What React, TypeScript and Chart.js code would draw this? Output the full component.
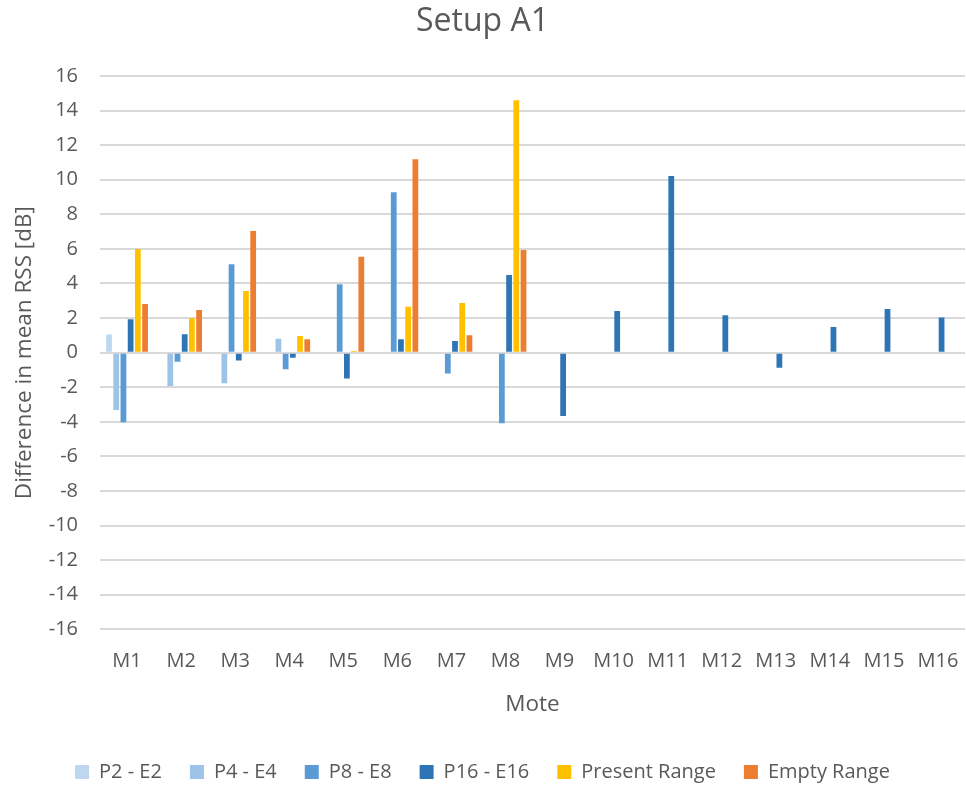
import React, { useEffect, useRef } from "react";
import { Chart, registerables } from "chart.js";

Chart.register(...registerables);

const categories = ["M1", "M2", "M3", "M4", "M5", "M6", "M7", "M8", "M9", "M10", "M11", "M12", "M13", "M14", "M15", "M16"];

const p2e2 = [1.05, null, null, null, null, null, null, null, null, null, null, null, null, null, null, null];
const p4e4 = [-3.32, -1.93, -1.77, 0.81, null, null, null, null, null, null, null, null, null, null, null, null];
const p8e8 = [-4.03, -0.52, 5.11, -0.96, 3.95, 9.27, -1.2, -4.09, null, null, null, null, null, null, null, null];
const p16e16 = [1.93, 1.06, -0.46, -0.29, -1.49, 0.77, 0.68, 4.49, -3.66, 2.41, 10.22, 2.16, -0.87, 1.48, 2.53, 2.04];
const presentRange = [6.0, 1.99, 3.57, 0.96, 0.1, 2.66, 2.87, 14.6, null, null, null, null, null, null, null, null];
const emptyRange = [2.82, 2.47, 7.04, 0.77, 5.55, 11.18, 1.0, 5.94, null, null, null, null, null, null, null, null];

const seriesNames = ["P2 - E2", "P4 - E4", "P8 - E8", "P16 - E16", "Present Range", "Empty Range"];
const seriesColors = ["#BDD7EE", "#9DC3E6", "#5B9BD5", "#2E75B6", "#FFC000", "#ED7D31"];

const FONT = "'Open Sans', 'DejaVu Sans', sans-serif";
const TEXT = "#595959";

export default function App() {
  const canvasRef = useRef<HTMLCanvasElement | null>(null);

  useEffect(() => {
    document.body.style.margin = "0";
    const canvas = canvasRef.current;
    if (!canvas) return;
    const seriesData = [p2e2, p4e4, p8e8, p16e16, presentRange, emptyRange];
    const chart = new Chart(canvas, {
      type: "bar",
      data: {
        labels: categories,
        datasets: seriesData.map((d, i) => ({
          label: seriesNames[i],
          data: d,
          backgroundColor: seriesColors[i],
          borderWidth: 0,
          categoryPercentage: 0.8,
          barPercentage: 0.8,
        })),
      },
      options: {
        responsive: false,
        animation: false,
        devicePixelRatio: 1,
        layout: { padding: { left: 0, right: 1, top: 0, bottom: -6 } },
        plugins: {
          title: {
            display: true,
            text: "Setup A1",
            color: TEXT,
            font: { family: FONT, size: 32, weight: "normal" },
            padding: { top: 3, bottom: 34.6 },
          },
          legend: {
            display: true,
            position: "bottom",
            labels: {
              color: TEXT,
              font: { family: FONT, size: 20 },
              boxWidth: 14,
              boxHeight: 14,
              padding: 28,
            },
          },
          tooltip: { enabled: false },
        },
        scales: {
          x: {
            grid: { display: false, drawTicks: false },
            border: { display: false },
            ticks: {
              color: TEXT,
              font: { family: FONT, size: 20, lineHeight: 2.6 },
              padding: 6,
              maxRotation: 0,
              autoSkip: false,
            },
            title: {
              display: true,
              text: "Mote",
              color: TEXT,
              font: { family: FONT, size: 22.5 },
              padding: { top: -2.5, bottom: 16.2 },
            },
          },
          y: {
            min: -16,
            max: 16,
            grid: { color: "#D9D9D9", lineWidth: 2, drawTicks: false },
            border: { display: false },
            ticks: {
              stepSize: 2,
              color: TEXT,
              font: { family: FONT, size: 20 },
              padding: 22,
            },
            title: {
              display: true,
              text: "Difference in mean RSS [dB]",
              color: TEXT,
              font: { family: FONT, size: 22.5 },
              padding: { top: 11.2, bottom: -11.5 },
            },
          },
        },
      },
    });
    return () => chart.destroy();
  }, []);

  return (
    <div style={{ width: 966, height: 786, background: "#fff" }}>
      <canvas ref={canvasRef} width={966} height={786} style={{ display: "block", width: 966, height: 786 }} />
    </div>
  );
}
